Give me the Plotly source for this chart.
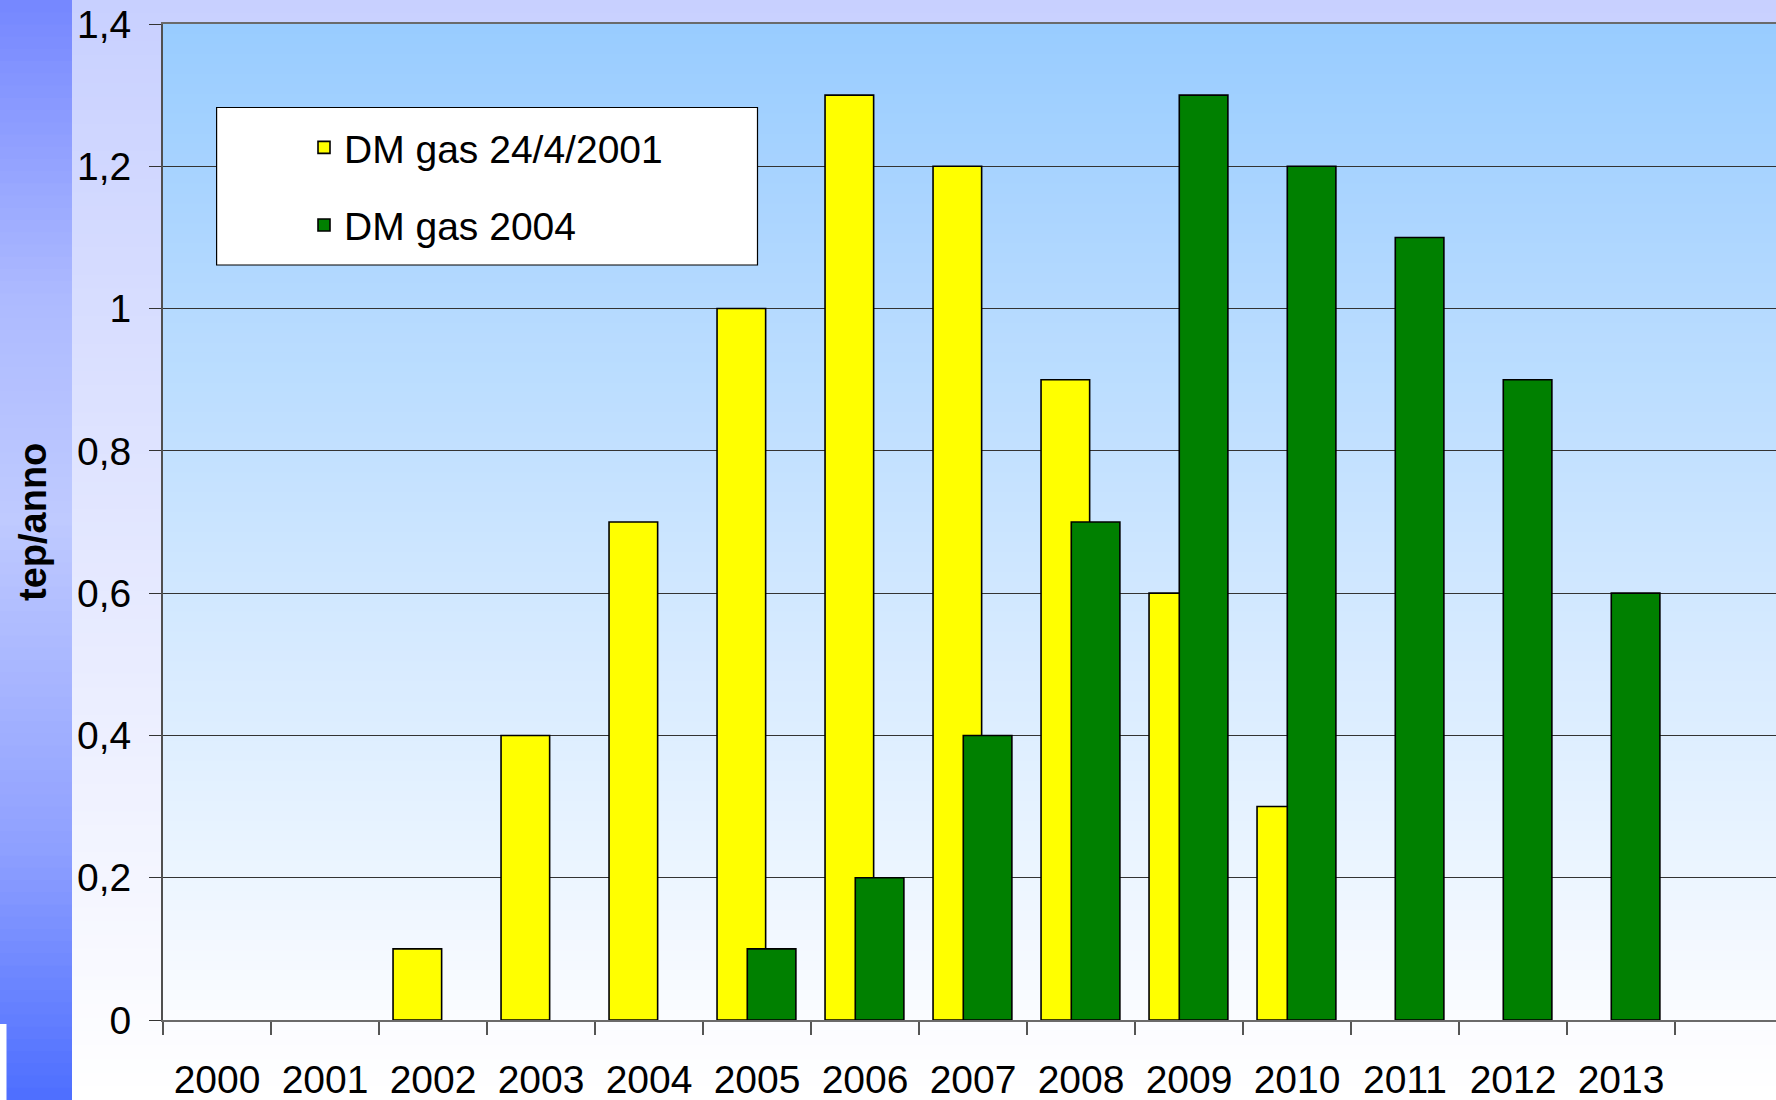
import plotly.graph_objects as go

# ---------------- data ----------------
years = ["2000", "2001", "2002", "2003", "2004", "2005", "2006",
         "2007", "2008", "2009", "2010", "2011", "2012", "2013"]
dm_2001 = [None, None, 0.1, 0.4, 0.7, 1.0, 1.3, 1.2, 0.9, 0.6, 0.3, None, None, None]
dm_2004 = [None, None, None, None, None, 0.1, 0.2, 0.4, 0.7, 1.3, 1.2, 1.1, 0.9, 0.6]
ytick_vals = [0, 0.2, 0.4, 0.6, 0.8, 1.0, 1.2, 1.4]
ytick_text = ["0", "0,2", "0,4", "0,6", "0,8", "1", "1,2", "1,4"]
series_names = ["DM gas 24/4/2001", "DM gas 2004"]
y_title = "tep/anno"

# ---------------- geometry ----------------
W, H = 1776, 1100
ML, MR, MT, MB = 163, 0, 24, 80
PW = W - ML - MR
PH = H - MT - MB
FONT = "Liberation Sans, Arial, sans-serif"


def px_to_paper_x(px):
    return (px - ML) / PW


def px_to_paper_y(py):
    return (H - MB - py) / PH


def hexrgb(h):
    h = h.lstrip("#")
    return tuple(int(h[i:i + 2], 16) for i in (0, 2, 4))


def interp(stops, t):
    for (t0, c0), (t1, c1) in zip(stops[:-1], stops[1:]):
        if t0 <= t <= t1:
            f = 0 if t1 == t0 else (t - t0) / (t1 - t0)
            a, b = hexrgb(c0), hexrgb(c1)
            return "rgb(%d,%d,%d)" % tuple(round(a[i] + (b[i] - a[i]) * f) for i in range(3))
    return stops[-1][1]


shapes = []


def gradient(x0px, x1px, y0px, y1px, stops, n=80):
    step = (y1px - y0px) / n
    for i in range(n):
        ya = y0px + i * step
        yb = ya + step + 0.8
        t = (ya + step / 2 - y0px) / (y1px - y0px)
        shapes.append(dict(type="rect", xref="paper", yref="paper", layer="below",
                           x0=px_to_paper_x(x0px), x1=px_to_paper_x(x1px),
                           y0=px_to_paper_y(min(yb, y1px)), y1=px_to_paper_y(ya),
                           fillcolor=interp(stops, t), line=dict(width=0)))


# page background (lavender -> white)
gradient(0, W, 0, H, [(0, "#C8D0FF"), (1, "#FFFFFF")], n=80)
# left blue strip
gradient(0, 72, 0, H, [(0, "#7587FF"), (0.27, "#ADBAFF"), (0.47, "#BFCAFF"),
                         (0.77, "#8FA0FF"), (1, "#4D6EFF")], n=90)
# small white block at bottom-left
shapes.append(dict(type="rect", xref="paper", yref="paper", layer="below",
                   x0=px_to_paper_x(0), x1=px_to_paper_x(6.5),
                   y0=px_to_paper_y(H), y1=px_to_paper_y(1024),
                   fillcolor="white", line=dict(width=0)))
# plot area gradient (light blue -> white)
gradient(ML, W, MT, H - MB, [(0, "#99CCFF"), (1, "#FAFCFF")], n=100)

# legend box
shapes.append(dict(type="rect", xref="paper", yref="paper", layer="above",
                   x0=px_to_paper_x(216.6), x1=px_to_paper_x(757.5),
                   y0=px_to_paper_y(265), y1=px_to_paper_y(107.5),
                   fillcolor="white", line=dict(color="black", width=1.2)))

fig = go.Figure()
fig.add_trace(go.Bar(x=years, y=dm_2001, name=series_names[0],
                     marker=dict(color="#FFFF00", line=dict(color="black", width=1.6)),
                     width=0.45, offset=-0.37, legendgroup="a"))
fig.add_trace(go.Bar(x=years, y=dm_2004, name=series_names[1],
                     marker=dict(color="#008000", line=dict(color="black", width=1.6)),
                     width=0.45, offset=-0.09, legendgroup="b"))

fig.update_layout(
    width=W, height=H,
    margin=dict(l=ML, r=MR, t=MT, b=MB, pad=0),
    paper_bgcolor="rgba(0,0,0,0)",
    plot_bgcolor="rgba(0,0,0,0)",
    barmode="overlay",
    font=dict(family=FONT, color="black", size=39),
    shapes=shapes,
    showlegend=True,
    legend=dict(x=px_to_paper_x(304), y=px_to_paper_y(115.5), xanchor="left", yanchor="top",
                bgcolor="rgba(0,0,0,0)", borderwidth=0,
                font=dict(family=FONT, size=39, color="black"),
                traceorder="grouped", tracegroupgap=24, itemwidth=30),
    annotations=[dict(text="<b>" + y_title + "</b>", xref="paper", yref="paper",
                      x=px_to_paper_x(33), y=0.5, xanchor="center", yanchor="middle",
                      textangle=-90, showarrow=False,
                      font=dict(family=FONT, size=38, color="black"))],
    xaxis=dict(type="category", categoryorder="array", categoryarray=years,
               range=[-0.5, -0.5 + PW / 108.0],
               tickson="boundaries", ticks="outside", ticklen=13, tickwidth=1.5,
               tickcolor="#555555", showgrid=False, showline=True, linewidth=2,
               linecolor="#6a6a6a", mirror=True, zeroline=False, ticklabelstandoff=24,
               tickfont=dict(family=FONT, size=39, color="black"), fixedrange=True),
    yaxis=dict(range=[0, 1.4], tickvals=ytick_vals, ticktext=ytick_text,
               ticks="outside", ticklen=12, tickwidth=1.2, tickcolor="#333333",
               showgrid=True, gridcolor="#333333", gridwidth=1,
               showline=True, linewidth=2, linecolor="#505050", zeroline=False,
               ticklabelstandoff=10,
               tickfont=dict(family=FONT, size=39, color="black"),
               fixedrange=True),
)

fig.write_html("out.html", config={"displayModeBar": False},
               post_script="document.body.style.margin='0';document.body.style.overflow='hidden';")
